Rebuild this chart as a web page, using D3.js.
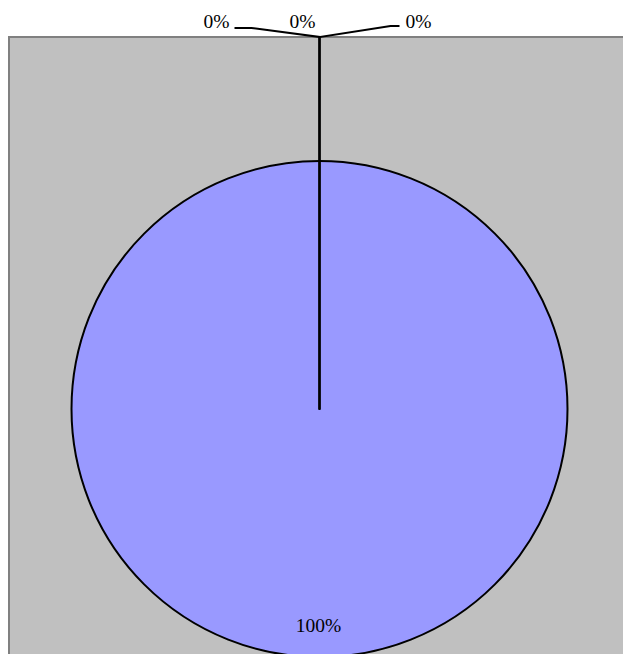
<!DOCTYPE html>
<html>
<head>
<meta charset="utf-8">
<script src="https://cdn.jsdelivr.net/npm/d3@7"></script>
<style>
  body { margin: 0; background: #fff; }
  svg { display: block; }
</style>
</head>
<body>
<script>
  const categories = ['A', 'B', 'C', 'D']
  const values = [100, 0, 0, 0]
  const colors = ['#9999ff', '#993366', '#ffffcc', '#ccffff']

  let size = { width: 623, height: 654 }
  let center = { x: 319.5, y: 409 }
  let radius = 248

  let svg = d3.select('body')
    .append('svg')
    .attr('width', size.width)
    .attr('height', size.height)

  // plot area
  svg.append('rect')
    .attr('x', 9)
    .attr('y', 37)
    .attr('width', 630)
    .attr('height', 640)
    .attr('fill', '#c0c0c0')
    .attr('stroke', '#808080')
    .attr('stroke-width', 2)

  let data = categories.map((c, i) => ({ name: c, value: values[i], color: colors[i] }))
  let total = d3.sum(values)

  let pie = d3.pie().sort(null).value(d => d.value)
  let arcs = pie(data)
  let arc = d3.arc().innerRadius(0).outerRadius(radius)

  let g = svg.append('g')
    .attr('transform', 'translate(' + center.x + ',' + center.y + ')')

  g.selectAll('path')
    .data(arcs)
    .enter()
    .append('path')
    .attr('d', arc)
    .attr('fill', d => d.data.color)
    .attr('stroke', '#000')
    .attr('stroke-width', 2)
    .attr('stroke-linejoin', 'round')

  let fmt = d => Math.round(d.value / total * 100) + '%'
  let font = '"Liberation Serif", "Times New Roman", serif'

  // big slices get their label inside
  arcs.filter(d => d.value / total > 0.05).forEach(d => {
    let mid = (d.startAngle + d.endAngle) / 2
    if (d.endAngle - d.startAngle >= 2 * Math.PI - 1e-6) mid = Math.PI
    g.append('text')
      .attr('x', Math.sin(mid) * radius * 0.9 - 1)
      .attr('y', -Math.cos(mid) * radius * 0.9)
      .attr('text-anchor', 'middle')
      .style('font-family', font)
      .style('font-size', '19.5px')
      .text(fmt(d))
  })

  // tiny slices get leader lines, spread left / middle / right
  let small = arcs.filter(d => d.value / total <= 0.05)
  let elbowR = radius + 124
  let spread = [
    { bend: -68, end: -85, dy: 9, anchor: 'end', tx: -90 },
    { bend: 0, end: 0, dy: 0, anchor: 'end', tx: -4 },
    { bend: 71, end: 80, dy: 11, anchor: 'start', tx: 86 },
  ]
  small.forEach((d, i) => {
    let s = spread[i % spread.length]
    let a = d.startAngle
    let ex = Math.sin(a) * elbowR
    let ey = -Math.cos(a) * elbowR
    let pts = [
      [Math.sin(a) * radius, -Math.cos(a) * radius],
      [ex, ey],
      [ex + s.bend, ey - s.dy],
      [ex + s.end, ey - s.dy],
    ]
    g.append('path')
      .attr('d', d3.line()(pts))
      .attr('fill', 'none')
      .attr('stroke', '#000')
      .attr('stroke-width', 2)
    g.append('text')
      .attr('x', ex + s.tx)
      .attr('y', ey - 9)
      .attr('text-anchor', s.anchor)
      .style('font-family', font)
      .style('font-size', '19.5px')
      .text(fmt(d))
  })
</script>
</body>
</html>
